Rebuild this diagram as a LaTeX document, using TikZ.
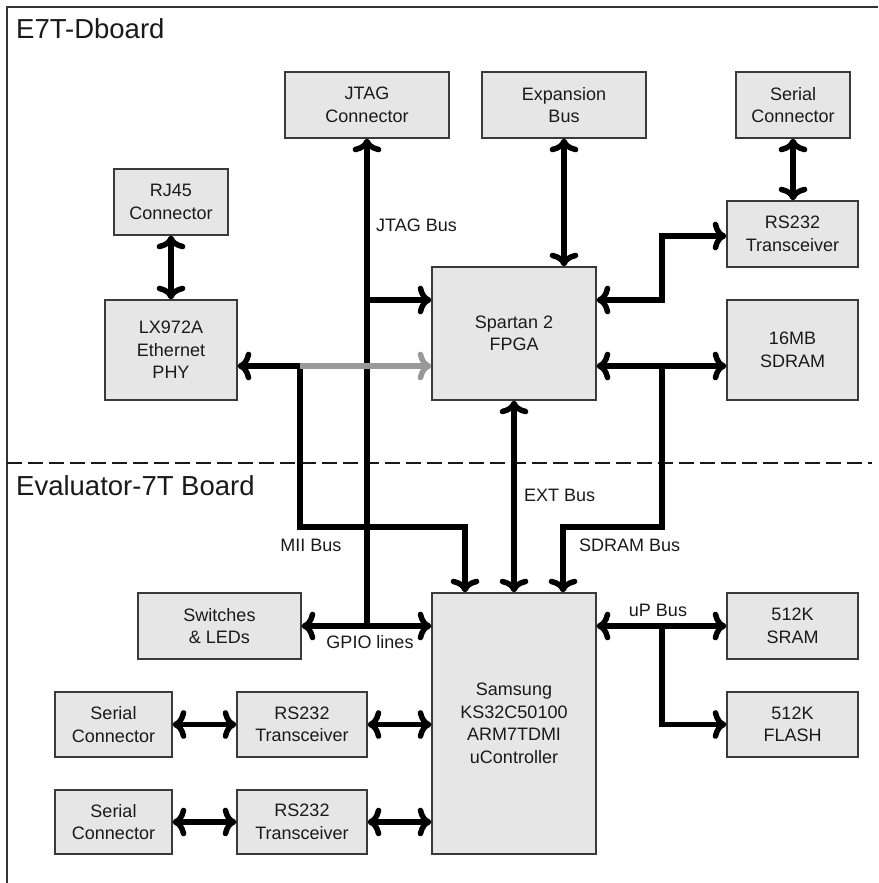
\documentclass[tikz,border=0pt]{standalone}
\usepackage{fontspec}
\setmainfont{Liberation Sans}
\usetikzlibrary{arrows.meta}
\definecolor{boxfill}{HTML}{E6E6E6}
\definecolor{boxline}{HTML}{3A3A3A}
\definecolor{grayline}{HTML}{999999}
\definecolor{txt}{HTML}{1A1A1A}
\tikzset{
  blk/.style={draw=boxline, line width=1.2pt, fill=boxfill, text=txt, align=center,
    inner sep=0pt, font=\fontsize{18}{22.5}\selectfont},
  bus/.style={line width=5.5pt, line join=miter, black,
    arrows={-Stealth[length=20pt,width=20pt,inset=3pt]}},
  graybus/.style={line width=5.5pt, grayline,
    arrows={-Stealth[length=20pt,width=20pt,inset=3pt]}},
  lbl/.style={text=txt, inner sep=0pt, font=\fontsize{18}{22}\selectfont},
  ttl/.style={text=txt, inner sep=0pt, font=\fontsize{27.5}{33}\selectfont},
}
\begin{document}
\begin{tikzpicture}[x=1pt,y=-1pt]
\useasboundingbox (0,0) rectangle (878,883);
% frame
\draw[line width=1.5pt, black!80] (7,883) -- (7,7) -- (878,7);
\draw[line width=2pt, black!90, dash pattern=on 15pt off 6pt] (7,463) -- (872,463);
\node[ttl, anchor=base west] (t1) at (16,38) {E7T-Dboard};
\node[ttl, anchor=base west] (t2) at (16,495) {Evaluator-7T Board};
% boxes
\node[blk, minimum width=164, minimum height=66] (jtag) at (367,105) {JTAG\\Connector};
\node[blk, minimum width=164, minimum height=66] (exp) at (564,105) {Expansion\\Bus};
\node[blk, minimum width=114, minimum height=66] (ser0) at (793,105) {Serial\\Connector};
\node[blk, minimum width=114, minimum height=66] (rj45) at (171,202) {RJ45\\Connector};
\node[blk, minimum width=131, minimum height=66] (rs0) at (792.5,234) {RS232\\Transceiver};
\node[blk, minimum width=132, minimum height=100] (lx) at (171,350) {LX972A\\Ethernet\\PHY};
\node[blk, minimum width=164, minimum height=133] (fpga) at (514,333.5) {Spartan 2\\FPGA};
\node[blk, minimum width=131, minimum height=100] (sdram) at (792.5,350) {16MB\\SDRAM};
\node[blk, minimum width=163, minimum height=66] (sw) at (219.5,626) {Switches\\\& LEDs};
\node[blk, minimum width=164, minimum height=261] (sam) at (514,723.5) {Samsung\\KS32C50100\\ARM7TDMI\\uController};
\node[blk, minimum width=131, minimum height=66] (sram) at (792.5,626) {512K\\SRAM};
\node[blk, minimum width=131, minimum height=65] (flash) at (792.5,724.5) {512K\\FLASH};
\node[blk, minimum width=117, minimum height=65] (ser1) at (113.5,724.5) {Serial\\Connector};
\node[blk, minimum width=130, minimum height=65] (rs1) at (302,724.5) {RS232\\Transceiver};
\node[blk, minimum width=117, minimum height=64] (ser2) at (113.5,822) {Serial\\Connector};
\node[blk, minimum width=130, minimum height=64] (rs2) at (302,822) {RS232\\Transceiver};
% junction coordinates
\coordinate (jb) at (367,300);
\coordinate (mii) at (300,366);
\coordinate (miiturn) at (465,527);
\coordinate (sd) at (662,366);
\coordinate (sdturn) at (563,527);
\coordinate (rsb) at (662,236);
\coordinate (up) at (662,626);
% connectors
\draw[bus,<-] (jtag.south) -- (jtag.south |- sw.east);
\draw[bus,->] (jb) -- (jb -| fpga.west);
\draw[bus,<->] (rj45.south) -- (lx.north);
\draw[bus,->] (mii) |- (miiturn) -- (miiturn |- sam.north);
\draw[bus,->] (mii) -- (lx.east |- mii);
\draw[graybus,->] (mii) -- (mii -| fpga.west);
\draw[bus,<->] (fpga.south) -- (sam.north);
\draw[bus,<->] (fpga.east |- sd) -- (sd -| sdram.west);
\draw[bus,->] (sd) |- (sdturn) -- (sdturn |- sam.north);
\draw[bus,<->] (ser0.south) -- (ser0.south |- rs0.north);
\draw[bus,<->] (rs0.west |- rsb) -- (rsb) |- (jb -| fpga.east);
\draw[bus,<->] (exp.south) -- (exp.south |- fpga.north);
\draw[bus,<->] (sw.east) -- (sw.east -| sam.west);
\draw[bus,<->] (sam.east |- sram.west) -- (sram.west);
\draw[bus,->] (up) |- (flash.west);
\draw[bus,<->] (ser1.east) -- (rs1.west);
\draw[bus,<->] (rs1.east) -- (rs1.east -| sam.west);
\draw[bus,<->] (ser2.east) -- (rs2.west);
\draw[bus,<->] (rs2.east) -- (rs2.east -| sam.west);
% labels
\node[lbl, anchor=west] (ljtag) at (376,225) {JTAG Bus};
\node[lbl] (lmii) at (311,545) {MII Bus};
\node[lbl, anchor=west] (lext) at (524,495) {EXT Bus};
\node[lbl, anchor=west] (lsd) at (579,545) {SDRAM Bus};
\node[lbl] (lgpio) at (370,642) {GPIO lines};
\node[lbl] (lup) at (658,610) {uP Bus};
\end{tikzpicture}
\end{document}
